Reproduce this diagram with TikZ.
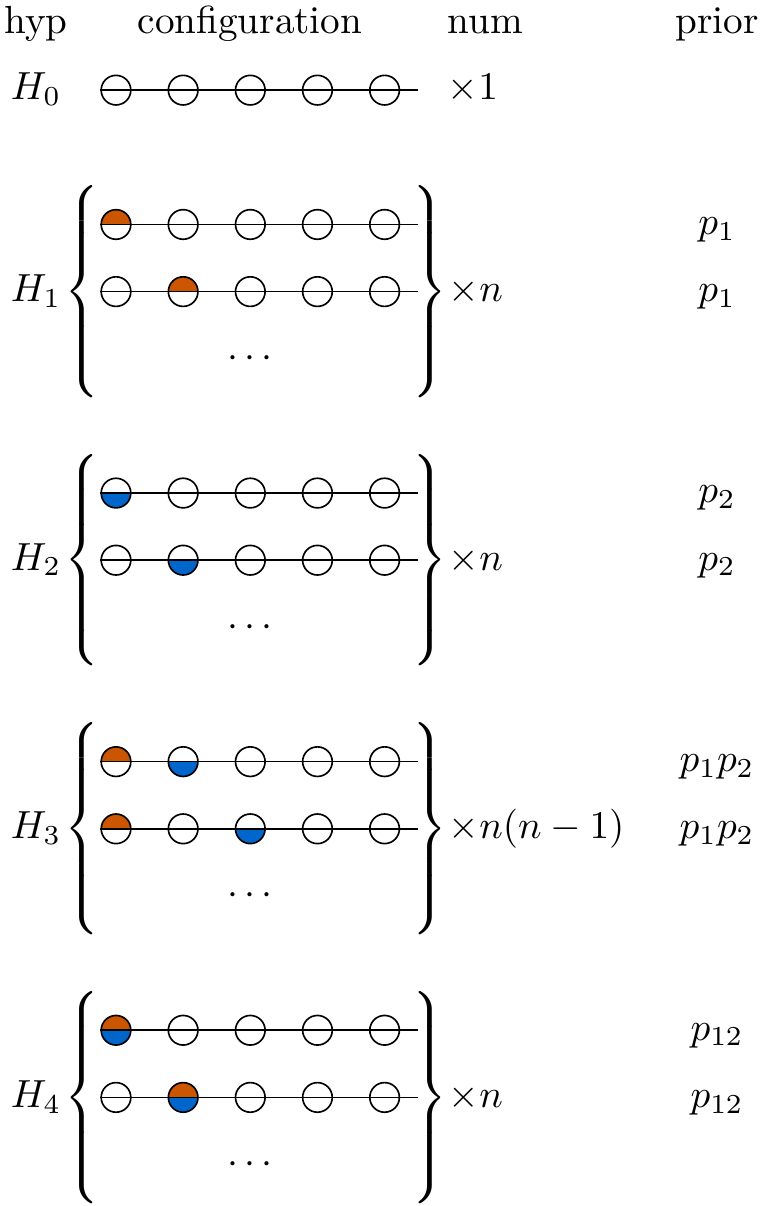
\documentclass[tikz,border=0pt]{standalone}
\definecolor{oc}{RGB}{204,85,0}
\definecolor{bc}{RGB}{0,102,204}
\newcommand{\bx}[1]{116+67.15*(#1-1)}
\newcommand{\beadrow}[2]{%
  \foreach \i in {1,...,5} {\node[bead] (#1-\i) at ({\bx{\i}},#2) {};}
  \coordinate (#1-end) at (418,#2);
  \draw[wire] (#1-1.west) -- (#1-end);
}
\newcommand{\halftop}[2]{\fill[oc] ({\bx{#1}},#2) ++(-3.77pt,0) arc[start angle=180,end angle=0,radius=3.77pt] -- cycle;}
\newcommand{\halfbot}[2]{\fill[bc] ({\bx{#1}},#2) ++(-3.77pt,0) arc[start angle=180,end angle=360,radius=3.77pt] -- cycle;}
\newcommand{\bracestrut}{\vcenter{\hbox{\rule{0pt}{52pt}}}}
\newcommand{\mylbr}[2]{\node[brc,anchor=west] (#1) at (74,#2) {\nulldelimiterspace=0pt\delimiterfactor=1000\delimitershortfall=0pt\makebox[3.4pt][l]{\hspace{-2.55pt}$\left\{\bracestrut\right.$}};}
\newcommand{\myrbr}[2]{\node[brc,anchor=east] (#1) at (438,#2) {\nulldelimiterspace=0pt\delimiterfactor=1000\delimitershortfall=0pt\makebox[3.4pt][r]{$\left.\bracestrut\right\}$\hspace{-2.55pt}}};}
\begin{document}
\begin{tikzpicture}[x=0.255pt,y=-0.255pt,
  bead/.style={circle,draw,minimum size=7.55pt,inner sep=0pt,line width=0.42pt},
  wire/.style={line width=0.42pt},
  lbl/.style={inner sep=0pt,anchor=base},
  numl/.style={inner sep=0pt,anchor=base west},
  brc/.style={inner sep=0pt},
  dotsl/.style={inner sep=0pt}]
\useasboundingbox (0,0) rectangle (766,1206);
% header
\node[lbl] (thyp) at (36,33) {hyp};
\node[lbl] (tconf) at (250,33) {configuration};
\node[numl] (tnum) at (447,33) {num};
\node[lbl] (tprior) at (717,33) {prior};
% H0
\beadrow{r0}{90.15}
\node[lbl] (h0) at (36,99.95) {$H_0$};
\node[numl] (n0) at (447,99.95) {$\times 1$};
% H1
\halftop{1}{224.45}
\beadrow{r11}{224.45}
\halftop{2}{291.6}
\beadrow{r12}{291.6}
\node[dotsl] (d1) at (250,358.75) {$\cdots$};
\mylbr{lb1}{291.6}
\myrbr{rb1}{291.6}
\node[lbl] (h1) at (36,301.4) {$H_1$};
\node[numl] (n1) at (448,301.4) {$\times n$};
\node[lbl] (p11) at (717,234.25) {$p_1$};
\node[lbl] (p12) at (717,301.4) {$p_1$};
% H2
\halfbot{1}{493.05}
\beadrow{r21}{493.05}
\halfbot{2}{560.2}
\beadrow{r22}{560.2}
\node[dotsl] (d2) at (250,627.35) {$\cdots$};
\mylbr{lb2}{560.2}
\myrbr{rb2}{560.2}
\node[lbl] (h2) at (36,570) {$H_2$};
\node[numl] (n2) at (448,570) {$\times n$};
\node[lbl] (p21) at (717,502.85) {$p_2$};
\node[lbl] (p22) at (717,570) {$p_2$};
% H3
\halftop{1}{761.65}\halfbot{2}{761.65}
\beadrow{r31}{761.65}
\halftop{1}{828.8}\halfbot{3}{828.8}
\beadrow{r32}{828.8}
\node[dotsl] (d3) at (250,895.95) {$\cdots$};
\mylbr{lb3}{828.8}
\myrbr{rb3}{828.8}
\node[lbl] (h3) at (36,838.6) {$H_3$};
\node[numl] (n3) at (448,838.6) {$\times n(n-1)$};
\node[lbl] (p31) at (717,771.45) {$p_1p_2$};
\node[lbl] (p32) at (717,838.6) {$p_1p_2$};
% H4
\halftop{1}{1030.25}\halfbot{1}{1030.25}
\beadrow{r41}{1030.25}
\halftop{2}{1097.4}\halfbot{2}{1097.4}
\beadrow{r42}{1097.4}
\node[dotsl] (d4) at (250,1164.55) {$\cdots$};
\mylbr{lb4}{1097.4}
\myrbr{rb4}{1097.4}
\node[lbl] (h4) at (36,1107.2) {$H_4$};
\node[numl] (n4) at (448,1107.2) {$\times n$};
\node[lbl] (p41) at (717,1040.05) {$p_{12}$};
\node[lbl] (p42) at (717,1107.2) {$p_{12}$};
\end{tikzpicture}
\end{document}
